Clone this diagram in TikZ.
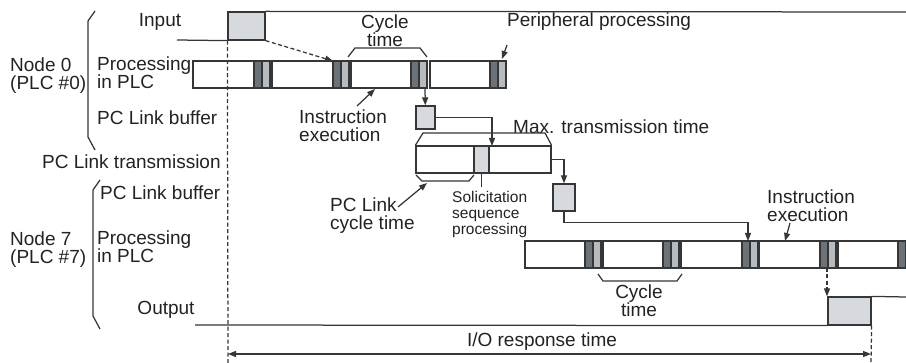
\documentclass[tikz,border=0pt]{standalone}
\usepackage{fontspec}
\setmainfont{Liberation Sans}
\usetikzlibrary{arrows.meta}
\definecolor{lnc}{HTML}{363636}
\definecolor{txt}{HTML}{222222}
\definecolor{dkg}{HTML}{6B7278}
\definecolor{ltg}{HTML}{B6BBC0}
\definecolor{bxg}{HTML}{D6D9DD}

\begin{document}
\begin{tikzpicture}[x=1pt,y=-1pt,
  lbl/.style={font=\fontsize{19}{18}\selectfont,text=txt,inner sep=0pt,align=left,anchor=west},
  sml/.style={lbl,font=\fontsize{15.5}{16}\selectfont},
  ln/.style={draw=lnc,line width=1.25pt},
  sig/.style={ln,fill=bxg,inner sep=0pt},
  wblk/.style={ln,fill=white},
  dblk/.style={ln,fill=dkg},
  lblk/.style={ln,fill=ltg},
  arr/.style={ln,-{Triangle[length=8pt,width=6pt]}},
  dsh/.style={ln,dash pattern=on 4pt off 2.5pt}]
\useasboundingbox (0,0) rectangle (906,363);

% scan cycles of both PLCs
\begin{scope}
\clip (0,0) rectangle (906,363);
\foreach \s/\d in {193/254,272/333,351/411,430/490}{
  \draw[wblk] (\s,61) rectangle (\d,88);
  \draw[dblk] (\d,61) rectangle +(8,27);
  \draw[lblk] (\d+8,61) rectangle +(8,27);}
\foreach \s/\d in {525/585,603/663,681/742,759/820,838/898}{
  \draw[wblk] (\s,241) rectangle (\d,268);
  \draw[dblk] (\d,241) rectangle +(8,27);
  \draw[lblk] (\d+8,241) rectangle +(8,27);}
\end{scope}

% signal boxes
\node[sig,minimum width=37pt,minimum height=28pt] (inbox) at (246.5,26) {};
\node[sig,minimum width=19pt,minimum height=23pt] (buf0) at (425.5,117.5) {};
\node[wblk,inner sep=0pt,minimum width=135pt,minimum height=27pt] (pcl) at (483.5,159.5) {};
\node[lblk,fill=bxg,inner sep=0pt,minimum width=15pt,minimum height=27pt] (sol) at (481.5,159.5) {};
\node[sig,minimum width=22pt,minimum height=27pt] (buf7) at (564,197.5) {};
\node[sig,minimum width=43pt,minimum height=28pt] (outbox) at (849.5,311) {};

% arrow ends
\coordinate (c0in) at (333,61);
\coordinate (c0out) at (425,88);
\coordinate (c0ins) at (375,89);
\coordinate (cie0) at (357,106);
\coordinate (c0per) at (502,59);
\coordinate (cper) at (507,45);
\coordinate (cpin) at (492,146);
\coordinate (cpcb) at (427,183);
\coordinate (cpc) at (398,207);
\coordinate (c7in) at (748,241);
\coordinate (c7ins) at (785,241);
\coordinate (cie7) at (790,223);
\coordinate (c7out) at (827,268);
\coordinate (ioL) at (228,354);
\coordinate (ioR) at (871,354);

% labels
\node[lbl,anchor=center] (linput) at (160,22) {Input};
\node[lbl] (lproc0) at (97,73) {Processing\\in PLC};
\node[lbl] (lnode0) at (10,76) {Node 0\\(PLC \#0)};
\node[lbl] (lbuf0) at (97,118) {PC Link buffer};
\node[lbl] (ltrans) at (42,162) {PC Link transmission};
\node[lbl] (lbuf7) at (100,193) {PC Link buffer};
\node[lbl] (lproc7) at (97,247) {Processing\\in PLC};
\node[lbl] (lnode7) at (10,250) {Node 7\\(PLC \#7)};
\node[lbl,anchor=center] (loutput) at (166,310) {Output};
\node[lbl,align=center,anchor=center] (lcyc0) at (385,31) {Cycle\\time};
\node[lbl] (lper) at (507,22) {Peripheral processing};
\node[lbl] (lins0) at (299,126) {Instruction\\execution};
\node[lbl] (lmax) at (513,127) {Max. transmission time};
\node[lbl] (lpcc) at (330,216) {PC Link\\cycle time};
\node[sml] (lsol) at (452,214) {Solicitation\\sequence\\processing};
\node[lbl] (lins7) at (767,206) {Instruction\\execution};
\node[lbl,align=center,anchor=center] (lcyc7) at (639,301) {Cycle\\time};
\node[lbl,anchor=center] (lio) at (542,342) {I/O response time};

% brackets
\draw[ln] (95,11) -- (88,21) -- (88,137) -- (95,150);
\draw[ln] (100,180) -- (93,190) -- (93,316) -- (100,329);
\draw[ln] (348,57) -- (355,48) -- (420,48) -- (427,57);
\draw[ln] (pcl.north west) -- (423,133) -- (545,133) -- (pcl.north east);
\draw[ln] (416,175) -- (422,181) -- (469,181) -- (474,175);
\draw[ln] (598,274) -- (603,281) -- (677,281) -- (682,274);

% input and output signals
\draw[ln] (177,40) -- (inbox.south west);
\draw[ln] (inbox.north east) -- (906,12);
\draw[ln] (195,325) -- (outbox.south west);
\draw[ln] (outbox.north east) -- (906,297);
\draw[dsh] (inbox.south west) -- (228,363);
\draw[dsh] (outbox.south east) -- (871,363);

% data flow
\draw[dsh,-{Triangle[length=8pt,width=6pt]}] (inbox.south east) -- (c0in);
\draw[arr] (c0out) -- (buf0);
\draw[arr] (buf0.east) -| (cpin);
\draw[arr] (pcl.east) -| (buf7.north);
\draw[arr] (buf7.south) -- ++(0,11) -| (c7in);
\draw[dsh,-{Triangle[length=8pt,width=6pt]}] (c7out) -- (c7out |- outbox.north);
\draw[ln,{Triangle[length=8pt,width=6pt]}-{Triangle[length=8pt,width=6pt]}] (ioL) -- (ioR);
\draw[ln] (sol.south) -- ++(0,13);
\foreach \u/\v in {cper/c0per,cie0/c0ins,cpc/cpcb,cie7/c7ins} \draw[arr] (\u) -- (\v);
\end{tikzpicture}
\end{document}
